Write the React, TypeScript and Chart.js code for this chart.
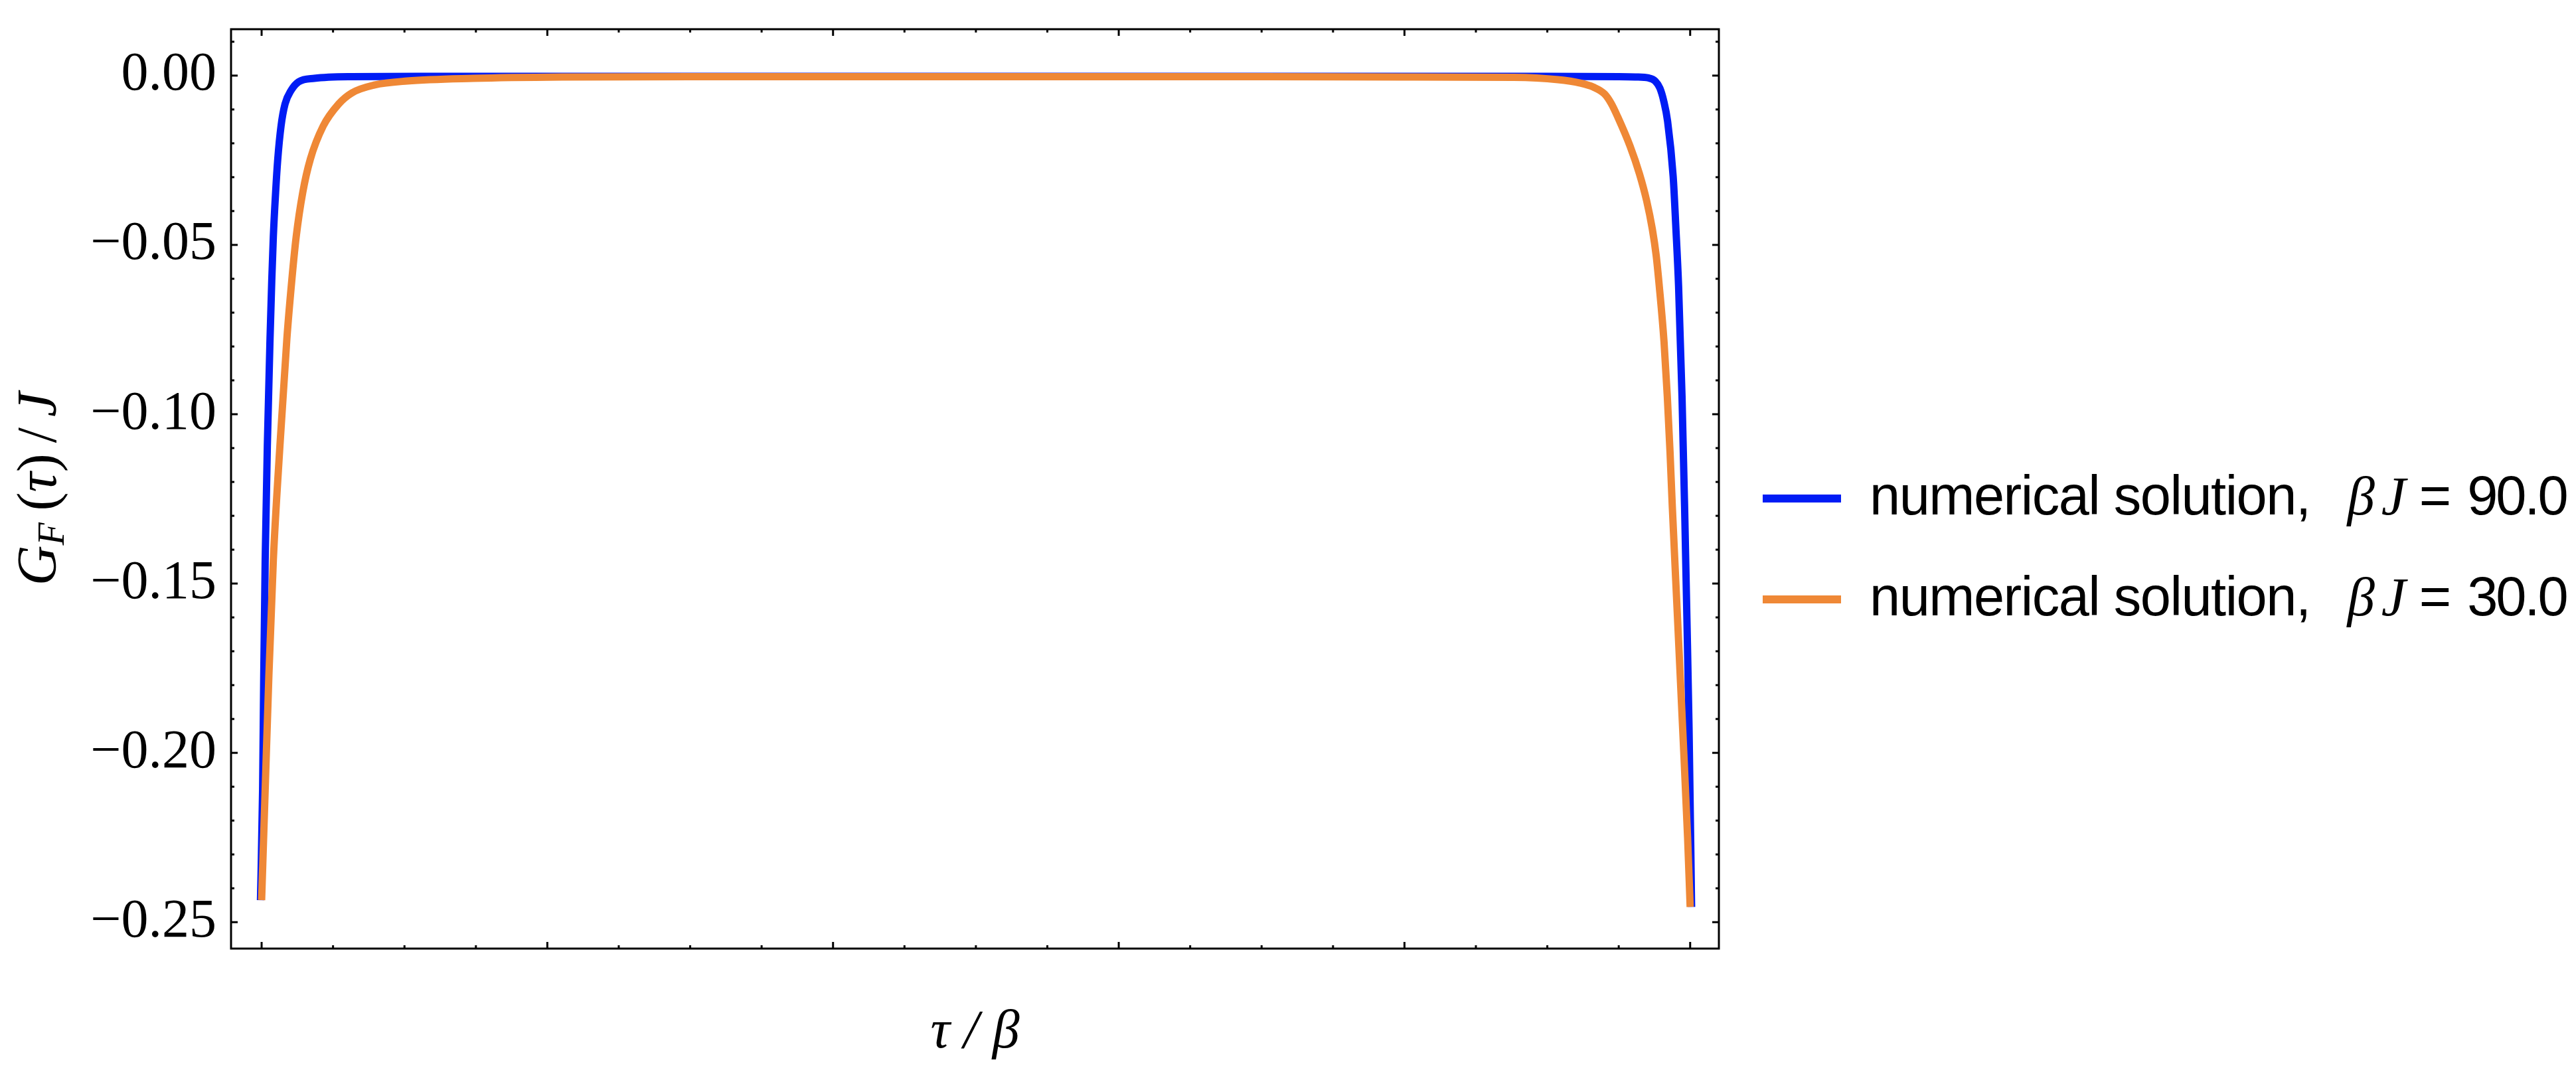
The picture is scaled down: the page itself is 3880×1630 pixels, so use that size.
import React, { useEffect, useRef } from 'react';
import { Chart, registerables } from 'chart.js';

Chart.register(...registerables);

// ---- data ----
const tauBlue = [
  -0.0008, 0.0007, 0.0015, 0.0025, 0.004, 0.0059, 0.0071, 0.0082, 0.0098, 0.0113, 0.0136, 0.0164, 0.0206, 0.026, 0.0369,
  0.0632, 0.12, 0.3, 0.5, 0.7, 0.88, 0.95, 0.9616, 0.9709, 0.9755, 0.9788, 0.9815, 0.9842, 0.9881, 0.99, 0.9919, 0.9943,
  0.9961, 0.9977, 0.9992, 1.001,
];
const gBlue = [
  -0.2435, -0.2108, -0.177, -0.1431, -0.1094, -0.0776, -0.0606, -0.0476, -0.0345, -0.0247, -0.0149, -0.0084, -0.0044,
  -0.0018, -0.0008, -0.0003, -0.0002, -0.0002, -0.0002, -0.0002, -0.0002, -0.0003, -0.0004, -0.0007, -0.0016, -0.0037,
  -0.0075, -0.0135, -0.0298, -0.045, -0.0623, -0.0948, -0.1273, -0.1598, -0.1923, -0.2455,
];
const tauOrange = [
  0, 0.0025, 0.0051, 0.0082, 0.0128, 0.0177, 0.0211, 0.0242, 0.0288, 0.0341, 0.0431, 0.0539, 0.0632, 0.0787, 0.1019,
  0.1483, 0.2104, 0.3, 0.5, 0.7, 0.8, 0.8765, 0.9075, 0.923, 0.9323, 0.94, 0.9447, 0.9493, 0.9579, 0.9645, 0.9695,
  0.9735, 0.9762, 0.9784, 0.9817, 0.984, 0.9859, 0.9875, 0.9911, 0.9947, 0.9982, 1.0,
];
const gOrange = [
  -0.2435, -0.2108, -0.177, -0.1431, -0.1094, -0.0776, -0.0606, -0.0476, -0.0345, -0.0247, -0.0149, -0.0084, -0.0051,
  -0.0028, -0.0016, -0.0008, -0.0004, -0.0003, -0.0003, -0.0003, -0.0004, -0.0005, -0.0012, -0.0022, -0.0034, -0.0054,
  -0.0082, -0.0122, -0.0208, -0.029, -0.0369, -0.0453, -0.0531, -0.0623, -0.0786, -0.0948, -0.1111, -0.1273, -0.1598,
  -0.1924, -0.2249, -0.2455,
];
const seriesLabels = ['numerical solution,', 'numerical solution,'];
const betaJValues = ['90.0', '30.0'];
const seriesColors = ['#001cf5', '#ef8836'];

const yMajorTicks = [0, -0.05, -0.1, -0.15, -0.2, -0.25];
const yMinorTicks = [
  0.01, -0.01, -0.02, -0.03, -0.04, -0.06, -0.07, -0.08, -0.09, -0.11, -0.12, -0.13, -0.14, -0.16, -0.17, -0.18, -0.19,
  -0.21, -0.22, -0.23, -0.24,
];
const xMajorTicks = [0, 0.2, 0.4, 0.6, 0.8, 1.0];
const xMinorTicks = [0.05, 0.1, 0.15, 0.25, 0.3, 0.35, 0.45, 0.5, 0.55, 0.65, 0.7, 0.75, 0.85, 0.9, 0.95];

const W = 3880;
const H = 1630;
const SERIF = '"Liberation Serif", "Times New Roman", serif';
const SANS = '"Liberation Sans", Arial, sans-serif';

const framePlugin = {
  id: 'mmaFrame',
  afterDraw(chart: any) {
    const { ctx, chartArea: a, scales } = chart;
    const xs = scales.x;
    const ys = scales.y;
    ctx.save();
    // frame
    ctx.strokeStyle = '#000';
    ctx.lineWidth = 3;
    ctx.strokeRect(a.left, a.top, a.right - a.left, a.bottom - a.top);
    const seg = (x1: number, y1: number, x2: number, y2: number) => {
      ctx.beginPath();
      ctx.moveTo(x1, y1);
      ctx.lineTo(x2, y2);
      ctx.stroke();
    };
    ctx.lineWidth = 3;
    ctx.lineCap = 'butt';
    const xt = (vals: number[], len: number) => {
      vals.forEach((v) => {
        const px = xs.getPixelForValue(v);
        seg(px, a.bottom, px, a.bottom - len);
        seg(px, a.top, px, a.top + len);
      });
    };
    const yt = (vals: number[], len: number) => {
      vals.forEach((v) => {
        const py = ys.getPixelForValue(v);
        seg(a.left, py, a.left + len, py);
        seg(a.right, py, a.right - len, py);
      });
    };
    xt(xMajorTicks, 10);
    xt(xMinorTicks, 5);
    yt(yMajorTicks, 10);
    yt(yMinorTicks, 5);

    // y-axis label  G_F (τ) / J  (rotated)
    ctx.fillStyle = '#000';
    ctx.textBaseline = 'alphabetic';
    ctx.textAlign = 'left';
    const pieces = [
      { t: 'G', f: `italic 84px ${SERIF}`, dy: 0, gap: 0 },
      { t: 'F', f: `italic 56px ${SERIF}`, dy: 12, gap: 18 },
      { t: '(', f: `84px ${SERIF}`, dy: 0, gap: 0 },
      { t: 'τ', f: `italic 84px ${SERIF}`, dy: 0, gap: 0 },
      { t: ')', f: `84px ${SERIF}`, dy: 0, gap: 16 },
      { t: '/', f: `84px ${SERIF}`, dy: 0, gap: 16 },
      { t: 'J', f: `italic 84px ${SERIF}`, dy: 0, gap: 0 },
    ];
    let total = 0;
    const widths = pieces.map((p) => {
      ctx.font = p.f;
      const w = ctx.measureText(p.t).width;
      total += w + p.gap;
      return w;
    });
    const cy = (a.top + a.bottom) / 2;
    ctx.save();
    ctx.translate(84, cy);
    ctx.rotate(-Math.PI / 2);
    let px = -total / 2;
    pieces.forEach((p, i) => {
      ctx.font = p.f;
      ctx.fillText(p.t, px, p.dy);
      px += widths[i] + p.gap;
    });
    ctx.restore();

    // legend
    const lx0 = a.right + 66;
    const lineLen = 118;
    const textX = lx0 + 161;
    const row0 = 751;
    const rowGap = 152;
    chart.data.datasets.forEach((ds: any) => {
      const idx = ds.legendIndex;
      const y = row0 + rowGap * idx;
      ctx.strokeStyle = ds.borderColor;
      ctx.lineWidth = 12;
      seg(lx0, y, lx0 + lineLen, y);
      const base = y + 24;
      ctx.fillStyle = '#000';
      ctx.font = `83px ${SANS}`;
      (ctx as any).letterSpacing = '-1.5px';
      let x = textX;
      ctx.fillText(seriesLabels[idx], x, base);
      x += ctx.measureText(seriesLabels[idx]).width + 56;
      (ctx as any).letterSpacing = '0px';
      ctx.font = `italic 83px ${SERIF}`;
      ctx.fillText('β', x, base);
      x += ctx.measureText('β').width + 10;
      ctx.fillText('J', x, base);
      x += ctx.measureText('J').width + 20;
      ctx.font = `83px ${SANS}`;
      ctx.fillText('=', x, base);
      x += ctx.measureText('=').width + 24;
      (ctx as any).letterSpacing = '-3px';
      ctx.fillText(betaJValues[idx], x, base);
      (ctx as any).letterSpacing = '0px';
    });
    ctx.restore();
  },
};

export default function App() {
  const ref = useRef<HTMLCanvasElement | null>(null);
  useEffect(() => {
    document.body.style.margin = '0';
    document.body.style.overflow = 'hidden';
    const canvas = ref.current;
    if (!canvas) return;
    const chart = new Chart(canvas, {
      type: 'line',
      data: {
        datasets: [
          {
            label: seriesLabels[0] + ' βJ = ' + betaJValues[0],
            data: tauBlue.map((t, i) => ({ x: t, y: gBlue[i] })),
            borderColor: seriesColors[0],
            borderWidth: 11,
            pointRadius: 0,
            fill: false,
            cubicInterpolationMode: 'monotone',
            borderCapStyle: 'butt',
            order: 2,
            legendIndex: 0,
          } as any,
          {
            label: seriesLabels[1] + ' βJ = ' + betaJValues[1],
            data: tauOrange.map((t, i) => ({ x: t, y: gOrange[i] })),
            borderColor: seriesColors[1],
            borderWidth: 11,
            pointRadius: 0,
            fill: false,
            cubicInterpolationMode: 'monotone',
            borderCapStyle: 'butt',
            order: 1,
            legendIndex: 1,
          } as any,
        ],
      },
      options: {
        responsive: false,
        maintainAspectRatio: false,
        animation: false,
        devicePixelRatio: 1,
        layout: { padding: { top: 44, right: 1291, bottom: 0, left: 0 } },
        plugins: { legend: { display: false }, tooltip: { enabled: false }, title: { display: false } },
        scales: {
          x: {
            type: 'linear',
            min: -0.0214,
            max: 1.0201,
            grid: { display: false, drawTicks: false },
            border: { display: false },
            ticks: { display: false },
            title: {
              display: true,
              text: 'τ / β',
              color: '#000',
              font: { family: SERIF, size: 82, style: 'italic' },
              padding: { top: 0, bottom: 24 },
            },
            afterFit: (s: any) => {
              s.height = 201;
              s.paddingLeft = 0;
              s.paddingRight = 0;
            },
          },
          y: {
            type: 'linear',
            min: -0.2578,
            max: 0.0137,
            grid: { display: false, drawTicks: false },
            border: { display: false },
            afterBuildTicks: (s: any) => {
              s.ticks = yMajorTicks.map((v) => ({ value: v }));
            },
            ticks: {
              padding: 22,
              color: '#000',
              font: { family: SERIF, size: 82 },
              callback: (v: any) => {
                const n = Number(v);
                const s = Math.abs(n).toFixed(2);
                return n < -1e-9 ? '\u2212' + s : s;
              },
            },
            afterFit: (s: any) => {
              s.width = 348;
              s.paddingTop = 0;
              s.paddingBottom = 0;
            },
          },
        },
      } as any,
      plugins: [framePlugin],
    });
    return () => chart.destroy();
  }, []);
  return (
    <div style={{ position: 'absolute', left: 0, top: 0, width: W, height: H, background: '#fff' }}>
      <canvas ref={ref} width={W} height={H} style={{ width: W, height: H, display: 'block' }} />
    </div>
  );
}
